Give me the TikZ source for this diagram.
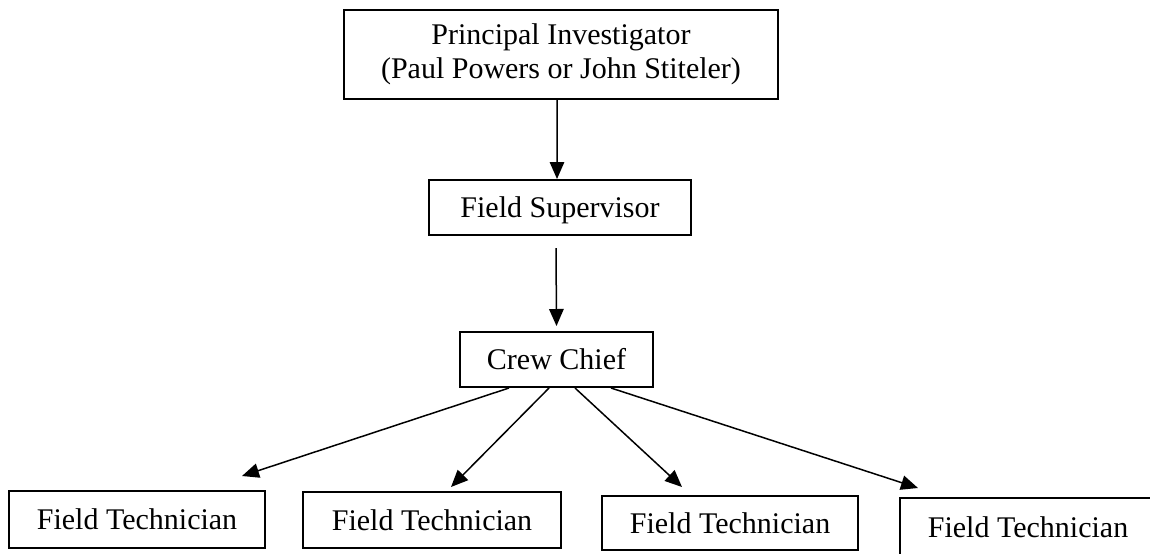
\documentclass[tikz,border=0pt]{standalone}
\usepackage{fontspec}
\setmainfont{Liberation Serif}
\usetikzlibrary{arrows.meta, positioning}

\tikzset{
  orgbase/.style={draw, line width=0.8pt, inner sep=0pt, font=\fontsize{12}{13.5}\selectfont},
  orgbox/.style={orgbase, text height=8pt, text depth=0pt},
  orgarrow/.style={-{Triangle[length=6.8pt, width=5.8pt]}, line width=0.6pt},
}

\begin{document}
\begin{tikzpicture}[x=0.4pt, y=0.4pt]
  \useasboundingbox (0,0) rectangle (1150,-553);

  % Chain of command
  \node[orgbase, align=center, minimum width=173.6pt, minimum height=35.6pt] (pi) at (561,-54.5) {Principal Investigator\\(Paul Powers or John Stiteler)};
  \node[orgbox, minimum width=104.8pt, minimum height=22pt] (fs) at (560,-207.5) {Field Supervisor};
  \node[orgbox, minimum width=77.2pt, minimum height=22pt] (cc) at (556.5,-359.5) {Crew Chief};

  % Technicians
  \node[orgbox, minimum width=102.4pt, minimum height=22.8pt] (ft1) at (137,-519.5) {Field Technician};
  \node[orgbox, minimum width=103.2pt, minimum height=22.4pt] (ft2) at (432,-520) {Field Technician};
  \node[orgbox, minimum width=102.4pt, minimum height=21.6pt] (ft3) at (730,-523) {Field Technician};
  \node[orgbox, minimum width=102.4pt, minimum height=23.2pt] (ft4) at (1028,-527) {Field Technician};

  % Arrows
  \draw[orgarrow] ([xshift=-1.6pt]pi.south) -- ([xshift=-1.2pt]fs.north);
  \draw[orgarrow] ([xshift=-1.6pt, yshift=-4.8pt]fs.south) -- ([yshift=2pt]cc.north);
  \draw[orgarrow] ([xshift=20pt]cc.south west) -- ([xshift=42pt, yshift=5.6pt]ft1.north);
  \draw[orgarrow] ([xshift=36pt]cc.south west) -- ([xshift=7.6pt, yshift=1.6pt]ft2.north);
  \draw[orgarrow] ([xshift=46.4pt]cc.south west) -- ([xshift=-19.2pt, yshift=3.2pt]ft3.north);
  \draw[orgarrow] ([xshift=60.8pt]cc.south west) -- ([xshift=-44pt, yshift=3.6pt]ft4.north);
\end{tikzpicture}
\end{document}
